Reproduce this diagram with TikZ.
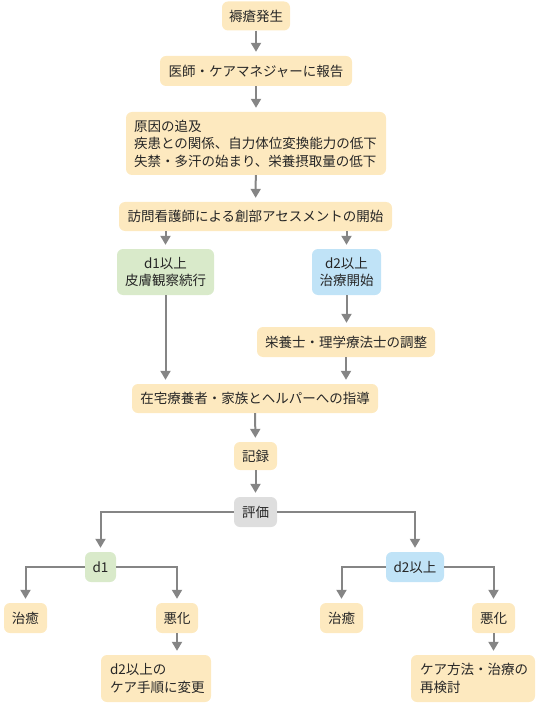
\documentclass[tikz,border=0pt]{standalone}
\usepackage{fontspec}
\setmainfont{Noto Sans CJK JP}
\usetikzlibrary{arrows.meta}
\definecolor{boxyellow}{HTML}{FDE9BF}
\definecolor{boxgreen}{HTML}{D9EACA}
\definecolor{boxblue}{HTML}{C0E3F7}
\definecolor{boxgray}{HTML}{DEDEDE}
\definecolor{linegray}{HTML}{858585}

\begin{document}
\begin{tikzpicture}[x=1pt,y=-1pt,
  box/.style={rounded corners=6pt, inner sep=0pt, minimum height=30pt,
    font=\fontsize{13.5}{17.5}\selectfont, text=black!85},
  ybox/.style={box, fill=boxyellow},
  gbox/.style={box, fill=boxgreen},
  bbox/.style={box, fill=boxblue},
  hbox/.style={box, fill=boxgray},
  flow/.style={draw=linegray, line width=2pt,
    -{Triangle[width=10pt,length=9pt]}, shorten >=4pt}]
\useasboundingbox (0,0) rectangle (540,703);
% main column
\node[ybox, minimum width=68pt, minimum height=29pt] (onset) at (256,16) {褥瘡発生};
\node[ybox, minimum width=192pt] (report) at (256,71) {医師・ケアマネジャーに報告};
\node[ybox, minimum width=260pt, minimum height=63pt, text width=244pt,
  inner xsep=8pt, align=left] (cause) at (256,143.5)
  {原因の追及\\疾患との関係、自力体位変換能力の低下\\失禁・多汗の始まり、栄養摂取量の低下};
\node[ybox, minimum width=273pt, minimum height=29pt] (assess) at (255.5,216.5) {訪問看護師による創部アセスメントの開始};
\node[gbox, minimum width=97pt, minimum height=46pt, align=center] (d1plus) at (165.5,272) {d1以上\\皮膚観察続行};
\node[bbox, minimum width=69pt, minimum height=46pt, align=center] (d2plus) at (346.5,272) {d2以上\\治療開始};
\node[ybox, minimum width=178pt] (staff) at (346,342) {栄養士・理学療法士の調整};
\node[ybox, minimum width=246pt, minimum height=29pt] (guide) at (255,398.5) {在宅療養者・家族とヘルパーへの指導};
\node[ybox, minimum width=43pt, minimum height=28pt] (record) at (255.5,456) {記録};
\node[hbox, minimum width=43pt] (eval) at (255.5,512) {評価};
% left branch
\node[gbox, minimum width=31pt] (evd1) at (100.5,567) {d1};
\node[ybox, minimum width=43pt] (healL) at (25.5,618) {治癒};
\node[ybox, minimum width=42pt] (worseL) at (177,618) {悪化};
\node[ybox, minimum width=110pt, minimum height=47pt, text width=92pt,
  inner xsep=9pt, align=left] (changeL) at (156,678.5) {d2以上の\\ケア手順に変更};
% right branch
\node[bbox, minimum width=58pt] (evd2) at (415,567) {d2以上};
\node[ybox, minimum width=43pt] (healR) at (341.5,618) {治癒};
\node[ybox, minimum width=43pt] (worseR) at (493.5,618) {悪化};
\node[ybox, minimum width=124pt, minimum height=47pt, text width=106pt,
  inner xsep=9pt, align=left] (changeR) at (473,678.5) {ケア方法・治療の\\再検討};
% connectors
\draw[flow] (onset) -- (report);
\draw[flow] (report) -- (cause);
\draw[flow] (cause) -- (assess);
\draw[flow] (assess.south -| d1plus.north) -- (d1plus.north);
\draw[flow] (assess.south -| d2plus.north) -- (d2plus.north);
\draw[flow] (d2plus.south) -- (d2plus.south |- staff.north);
\draw[flow] (d1plus.south) -- (d1plus.south |- guide.north);
\draw[flow] (staff.south) -- (staff.south |- guide.north);
\draw[flow] (guide) -- (record);
\draw[flow] (record) -- (eval);
\draw[flow] (eval.west) -| (evd1.north);
\draw[flow] (eval.east) -| (evd2.north);
\draw[flow] (evd1.west) -| (healL.north);
\draw[flow] (evd1.east) -| (worseL.north);
\draw[flow] (worseL) -- (worseL.south |- changeL.north);
\draw[flow] (evd2.west) -| (healR.north);
\draw[flow] (evd2.east) -| (worseR.north);
\draw[flow] (worseR) -- (worseR.south |- changeR.north);
\end{tikzpicture}
\end{document}
